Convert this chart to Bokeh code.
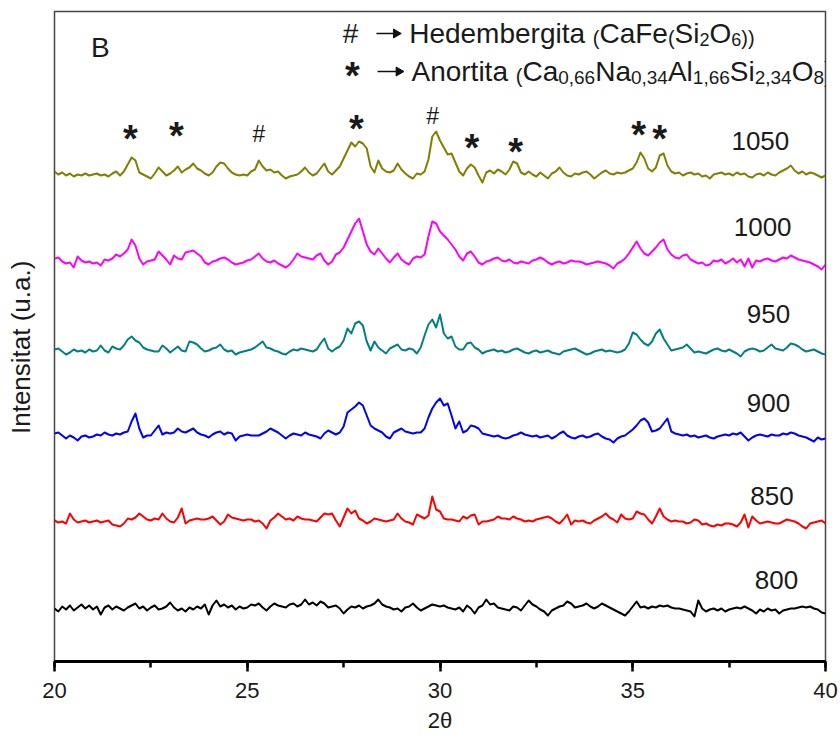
import math
from bokeh.plotting import figure
from bokeh.models import (ColumnDataSource, Label, SingleIntervalTicker, FixedTicker)
from bokeh.core.properties import value
from bokeh.embed import file_html
from bokeh.resources import INLINE

# ---------------- data ----------------
two_theta = [round(20 + 0.1 * i, 1) for i in range(201)]

temperatures = ["800", "850", "900", "950", "1000", "1050"]
colors = ["#000000", "#ff0000", "#0000ff", "#008080", "#ff00ff", "#808000"]
stack_offset = [53, 140, 226, 310, 400, 487]

int_800 = [
    0, -3, 2, -1, 3, -2, 1, 4, 0, 3,
    -1, 2, -6, 1, 3, -1, 2, 0, -2, 1,
    3, 5, 0, 2, -2, 1, 3, -1, 0, 2,
    6, 1, -2, 0, -3, 1, -1, 2, 0, 4,
    -6, 3, 8, 2, 4, 1, 3, -1, 2, 0,
    1, 4, 3, 5, 1, -2, 2, 5, 3, 2,
    1, 4, 5, 2, 4, 9, 4, 6, 3, 7,
    5, 1, 2, 3, 0, -5, -1, 2, 1, 3,
    0, 2, 3, 5, 9, 4, 2, 1, -1, 0,
    -3, 1, 2, 5, 1, -2, 0, 2, 4, 3,
    2, 3, 1, 0, -1, 1, -3, 3, 0, -5,
    1, 3, 9, 4, 5, 1, 0, -1, -2, 2,
    1, -2, 3, 8, 4, 2, -1, -3, -7, -2,
    0, 2, 3, 7, 5, 1, 2, 3, 5, 2,
    0, 2, 5, 3, 1, -1, -3, -5, -7, -3,
    2, 7, 1, 2, 0, 2, 1, 3, 2, 3,
    1, 0, 0, -1, -2, -3, -8, 8, 0, -3,
    -1, 0, -2, 0, -3, -1, 0, 1, 0, 2,
    0, -2, -5, -1, -3, 0, -2, -1, -5, -2,
    -1, 0, 0, 1, 2, 1, 2, 0, -1, -4,
    -5]

int_850 = [
    1, -1, 0, -2, 8, 2, -1, 0, 1, -1,
    0, 1, -1, 0, 1, -3, -4, -5, -2, 3,
    2, 4, 8, 5, 2, 1, 3, 2, 8, 3,
    0, -1, 4, 13, -2, 1, 2, 3, 2, 2,
    3, 5, 1, -3, 0, 7, 4, 3, 2, 1,
    2, 2, 0, 1, -2, -7, 1, 4, 8, 5,
    2, 3, 1, 5, 3, 2, 2, 1, 0, 4,
    8, 7, 8, 1, -5, 4, 13, 8, 11, 3,
    1, -2, 0, 3, 2, 1, 0, 1, 2, 8,
    3, 0, -1, -3, 7, 5, 3, 6, 25, 12,
    10, 3, 2, 2, 1, 0, 5, 3, 6, 7,
    -3, 0, 0, 1, 2, 5, 3, 3, 2, 5,
    3, 2, 0, 1, 0, 2, 3, 4, 5, 3,
    0, -2, 2, 7, -3, 1, 0, 1, -1, -2,
    1, 3, 5, 8, 4, 2, -1, 7, 3, 2,
    3, 10, 8, 7, 2, -2, 5, 13, 5, 2,
    0, 1, 0, 0, -2, -1, 2, 1, -3, -2,
    -4, -5, -3, -4, -2, -2, -3, -5, -1, 7,
    -6, 5, 1, -2, -1, 0, -1, -2, -2, 0,
    2, 1, 0, -2, -5, -7, -2, -1, 0, 1,
    -2]

int_900 = [
    2, 3, 0, -3, 0, -2, -5, -1, 0, -2,
    -1, 1, 0, 3, 1, 0, 2, 1, 3, 4,
    14, 22, 7, -2, 0, 0, 5, 10, 1, 3,
    2, 3, 7, 4, 3, 5, 7, 3, 1, 0,
    -2, 1, 3, 4, 1, 3, 2, -5, -1, 0,
    1, 0, 0, 0, 2, 4, 7, 5, 3, 0,
    -3, 0, 2, 1, 0, 3, 1, 0, -1, -3,
    2, 5, 3, 1, 3, 9, 23, 26, 29, 33,
    30, 20, 10, 7, 5, 3, -1, -3, 3, 5,
    7, 4, 3, 2, 3, 3, 7, 18, 27, 33,
    37, 30, 32, 20, 7, 14, 3, 5, 10, 9,
    7, 2, 1, 0, -1, 0, -2, -3, -2, 0,
    1, 3, 1, 0, -1, 0, -2, -1, 0, -3,
    -1, 2, 4, 0, -2, -3, -1, 0, -2, -1,
    1, 2, -1, -3, -4, -7, -3, -1, 0, 3,
    6, 10, 15, 17, 13, 4, 5, 7, 12, 17,
    4, 2, 1, 0, 1, -1, 0, -2, -1, 0,
    -2, -3, -1, 0, 1, 0, 2, 1, 3, -1,
    -5, -2, 0, 1, 0, -1, 1, 0, 0, 2,
    1, 3, 2, 0, -1, -2, -4, -6, -2, -4,
    -3]

int_950 = [
    2, 3, 0, -3, -1, 2, 0, 1, -1, 2,
    0, 1, 6, 1, -1, 5, 3, 2, 6, 12,
    15, 11, 9, 4, 2, 1, 0, 0, 6, 3,
    -1, 2, 5, 1, 0, 10, 9, 7, 3, 0,
    1, 3, 4, 7, 2, 0, 1, -3, -1, 0,
    1, 2, 4, 7, 10, 4, 3, 1, 0, -2,
    -3, 0, 2, 1, 3, 2, 1, 0, 2, 8,
    13, 3, 0, 3, 5, 11, 23, 18, 28, 30,
    26, 10, 1, 10, 4, 1, -2, 3, 5, 7,
    2, 1, 3, 2, -2, 4, 16, 27, 32, 24,
    37, 18, 13, 15, 5, 2, 2, 8, 9, 4,
    2, -2, 0, 1, 2, 0, 1, -1, 0, 2,
    3, 1, -1, -2, 0, 1, -1, 0, 1, -1,
    -2, -3, 0, 1, 2, 3, 1, -1, -3, -2,
    0, 1, 2, 0, 1, 0, -1, 0, 2, 8,
    19, 17, 12, 8, 6, 10, 18, 22, 13, 7,
    1, 2, 3, 4, 7, 3, -1, 0, -1, -2,
    0, 2, 3, 1, 0, 2, 0, -2, -5, 0,
    2, 3, 2, 0, 1, 4, 7, 3, 2, 1,
    4, 8, 7, 5, 2, 0, 1, 2, 0, -2,
    -3]

int_1000 = [
    3, 4, 0, -2, -1, -6, 5, 1, -1, 0,
    -2, -1, -4, 2, 1, 3, 7, 5, 8, 12,
    22, 16, 3, -3, 0, 1, 2, 10, 6, 2,
    -3, 6, 3, 2, 9, 10, 11, 8, 5, -1,
    -3, 0, 1, 3, 4, 2, -1, -3, -2, -1,
    1, 2, 5, 8, 3, 0, -1, 1, -2, -4,
    -6, -3, 2, 8, 5, 4, 3, 2, 6, 8,
    1, -3, 0, 7, 9, 14, 22, 30, 38, 43,
    30, 17, 10, 7, 13, 8, 3, -1, 4, 8,
    2, -1, -3, 3, 5, 4, 7, 25, 40, 38,
    30, 26, 22, 17, 12, 5, 1, 8, 10, 5,
    -1, -3, 0, 1, 3, 4, 1, 0, 2, -1,
    -2, 0, -1, -2, 1, 2, 4, 2, -1, -3,
    -1, 0, -2, -1, 1, 0, 0, -1, -3, -2,
    -1, 0, -1, -2, -4, -7, -2, 0, 3, 8,
    14, 20, 13, 8, 6, 10, 14, 19, 22, 12,
    7, 4, 3, 6, 7, 2, 0, -2, -1, -4,
    -3, 1, 0, 2, -2, 0, 3, -1, 2, -5,
    3, -6, 1, 0, 2, 3, 1, 0, 2, 4,
    3, 6, 4, 2, 1, 0, -1, -3, -5, -8,
    -3]

int_1050 = [
    3, 0, 2, -1, 1, -2, 0, -1, 1, -1,
    0, 1, -1, 0, -2, 1, 3, -1, 3, 10,
    17, 14, 2, 0, -2, -4, 1, 7, 3, -1,
    1, 4, 8, 2, 5, 7, 11, 6, 4, 1,
    -1, 2, 8, 12, 11, 6, 2, 0, -1, 0,
    -1, 3, 5, 14, 8, 4, 5, 2, 3, -1,
    -4, -2, -1, 0, 3, 7, 2, -1, 1, 6,
    11, 3, 0, 4, 8, 16, 24, 32, 28, 33,
    31, 26, 8, 2, 14, 6, 3, 2, 4, 11,
    5, 1, -2, -4, 1, 0, 3, 15, 38, 43,
    34, 27, 20, 21, 12, 3, -1, 6, 10, 7,
    -1, -8, 2, 4, 1, 5, 3, 0, 5, 13,
    11, 2, 0, 3, 0, -2, 2, -1, -4, 1,
    3, 7, 2, -1, -2, 1, 0, 2, 3, 0,
    -4, -1, 2, 4, 1, 0, 2, 1, 2, 4,
    6, 12, 22, 16, 6, 3, 7, 19, 21, 9,
    3, 1, 2, -1, 1, 2, 0, 1, -2, -1,
    -4, 0, 1, 2, 0, 1, -1, 2, 0, 1,
    -2, -3, 0, 1, -1, 2, 0, -1, 2, 4,
    6, 9, 4, 1, 3, 0, 2, 1, -1, -3,
    -1]

intensities = [int_800, int_850, int_900, int_950, int_1000, int_1050]

# phase markers above the 1050 pattern (2theta, height)
peak_symbol = ["*", "*", "#", "*", "#", "*", "*", "*", "*"]
peak_2theta = [21.97, 23.16, 25.30, 27.83, 29.81, 30.83, 31.96, 35.15, 35.70]
peak_height = [528, 531, 529, 538, 547, 519, 515, 532, 528]

# label positions for each temperature (2theta, height)
label_2theta = [38.73, 38.61, 38.52, 38.52, 38.37, 38.31]
label_height = [81.5, 166, 259, 348, 435, 521]

x_ticks_interval = 5

# ---------------- figure ----------------
W, H = 838, 736
LEFT, RIGHT, TOP, BOTTOM = 54, 13, 11, 75
X0, X1 = 20, 40
Y0, Y1 = 0, 650
FONT = "Liberation Sans"
TXT = "#1a1a1a"

p = figure(width=W, height=H, x_range=(X0, X1), y_range=(Y0, Y1),
           output_backend="svg", toolbar_location=None)
p.min_border_left = LEFT
p.min_border_right = RIGHT
p.min_border_top = TOP
p.min_border_bottom = BOTTOM
p.grid.visible = False
p.background_fill_color = "white"
p.border_fill_color = "white"
p.outline_line_color = "#444444"
p.outline_line_width = 1.5

ya = p.yaxis[0]
ya.ticker = FixedTicker(ticks=[])
ya.axis_line_color = None
ya.major_tick_out = 0
ya.major_tick_in = 0
ya.minor_tick_out = 0
ya.minor_tick_in = 0
ya.major_label_standoff = 0
# trailing no-break spaces nudge the centred title slightly downwards
ya.axis_label = "Intensitat (u.a.)" + "\u00a0" * 3
ya.axis_label_text_font = FONT
ya.axis_label_text_font_size = "26px"
ya.axis_label_text_font_style = "normal"
ya.axis_label_text_color = TXT
ya.axis_label_standoff = 19

xa = p.xaxis[0]
xa.ticker = SingleIntervalTicker(interval=x_ticks_interval, num_minor_ticks=2)
xa.axis_line_width = 3
xa.axis_line_color = "black"
xa.major_tick_line_width = 2.5
xa.minor_tick_line_width = 2.5
xa.major_tick_line_color = "black"
xa.minor_tick_line_color = "black"
xa.major_tick_in = 0
xa.major_tick_out = 10
xa.minor_tick_in = 0
xa.minor_tick_out = 6
xa.major_label_text_font = FONT
xa.major_label_text_font_size = "22px"
xa.major_label_text_color = TXT
xa.major_label_standoff = 11
xa.axis_label = "2θ"
xa.axis_label_text_font = FONT
xa.axis_label_text_font_size = "22px"
xa.axis_label_text_font_style = "normal"
xa.axis_label_text_color = TXT
xa.axis_label_standoff = 7

frame_w = W - LEFT - RIGHT
px_per_deg = frame_w / (X1 - X0)
frame_h = H - TOP - BOTTOM
px_per_unit = frame_h / (Y1 - Y0)

# ---------------- traces ----------------
for name, col, off, vals in zip(temperatures, colors, stack_offset, intensities):
    src = ColumnDataSource(data=dict(x=two_theta, y=[off + v for v in vals]))
    p.line("x", "y", source=src, line_color=col, line_width=2, line_join="round")

# temperature labels
p.text(x=label_2theta, y=label_height, text=temperatures,
       text_font=value(FONT), text_font_size=value("26px"),
       text_align="center", text_baseline="middle", text_color=TXT)

# phase markers
STAR_SIZE = 38
HASH_SIZE = 23
sx = [x for x, s in zip(peak_2theta, peak_symbol) if s == "*"]
sy = [y - 0.15 * STAR_SIZE / px_per_unit for y, s in zip(peak_height, peak_symbol) if s == "*"]
hx = [x for x, s in zip(peak_2theta, peak_symbol) if s == "#"]
hy = [y - 1 for y, s in zip(peak_height, peak_symbol) if s == "#"]
p.text(x=sx, y=sy, text=["*"] * len(sx), text_font=value(FONT),
       text_font_size=value(f"{STAR_SIZE}px"), text_font_style=value("bold"),
       text_align="center", text_baseline="alphabetic", text_color=TXT)
p.text(x=hx, y=hy, text=["#"] * len(hx), text_font=value(FONT),
       text_font_size=value(f"{HASH_SIZE}px"),
       text_align="center", text_baseline="alphabetic", text_color=TXT)

# ---------------- annotations ----------------
p.add_layout(Label(x=21.19, y=614.5, text="B", text_font=FONT, text_font_size="28px",
                   text_align="center", text_baseline="middle", text_color=TXT))

# Arial / Liberation Sans advance widths (1/1000 em)
ADV = {" ": 278, "#": 556, "(": 333, ")": 333, ",": 278, ".": 278, "*": 389,
       "A": 667, "C": 722, "F": 611, "H": 722, "N": 722, "O": 778, "S": 667,
       "a": 556, "b": 556, "d": 556, "e": 556, "g": 556, "i": 222, "l": 222,
       "m": 833, "n": 556, "o": 556, "r": 333, "t": 278, "u": 556, "s": 500}


def text_w(s, size):
    return sum(ADV.get(c, 556) for c in s) / 1000.0 * size


def rich(x0, base, pieces):
    x = x0
    for txt, size, drop in pieces:
        p.add_layout(Label(x=x, y=base - drop / px_per_unit, text=txt, text_font=FONT,
                           text_font_size=f"{size}px", text_align="left",
                           text_baseline="alphabetic", text_color=TXT))
        x += text_w(txt, size) / px_per_deg


F, f, pz = 28, 18, 20
line1 = [("Hedembergita ", F, 0), ("(", pz, 4), ("CaFe", F, 0), ("(", pz, 4),
         ("Si", F, 0), ("2", f, 6), ("O", F, 0), ("6", f, 6), ("))", pz, 4)]
line2 = [("Anortita ", F, 0), ("(", pz, 4), ("Ca", F, 0), ("0,66", 19, 6),
         ("Na", F, 0), ("0,34", 19, 6), ("Al", F, 0), ("1,66", 19, 6),
         ("Si", F, 0), ("2,34", 19, 6), ("O", F, 0), ("8", 19, 6), (")", F, 0)]
rich(29.2, 628, line1)
rich(29.26, 590, line2)

LEG_HASH = 28
p.add_layout(Label(x=27.68, y=628, text="#", text_font=FONT,
                   text_font_size=f"{LEG_HASH}px", text_align="center",
                   text_baseline="alphabetic", text_color=TXT))
p.add_layout(Label(x=27.73, y=591 - 0.15 * STAR_SIZE / px_per_unit, text="*", text_font=FONT,
                   text_font_size=f"{STAR_SIZE}px", text_font_style="bold",
                   text_align="center", text_baseline="alphabetic", text_color=TXT))

# legend arrows: shaft + filled head
arrow_y = [628, 590]
arrow_x0 = [28.35, 28.38]
arrow_x1 = [28.86, 28.93]
p.segment(x0=arrow_x0, y0=arrow_y, x1=arrow_x1, y1=arrow_y,
          line_color="#111111", line_width=1.5)
p.scatter(x=arrow_x1, y=arrow_y, marker="triangle", size=9, angle=-math.pi / 2,
          fill_color="#111111", line_color="#111111")

open("out.html", "w").write(file_html(p, INLINE))
